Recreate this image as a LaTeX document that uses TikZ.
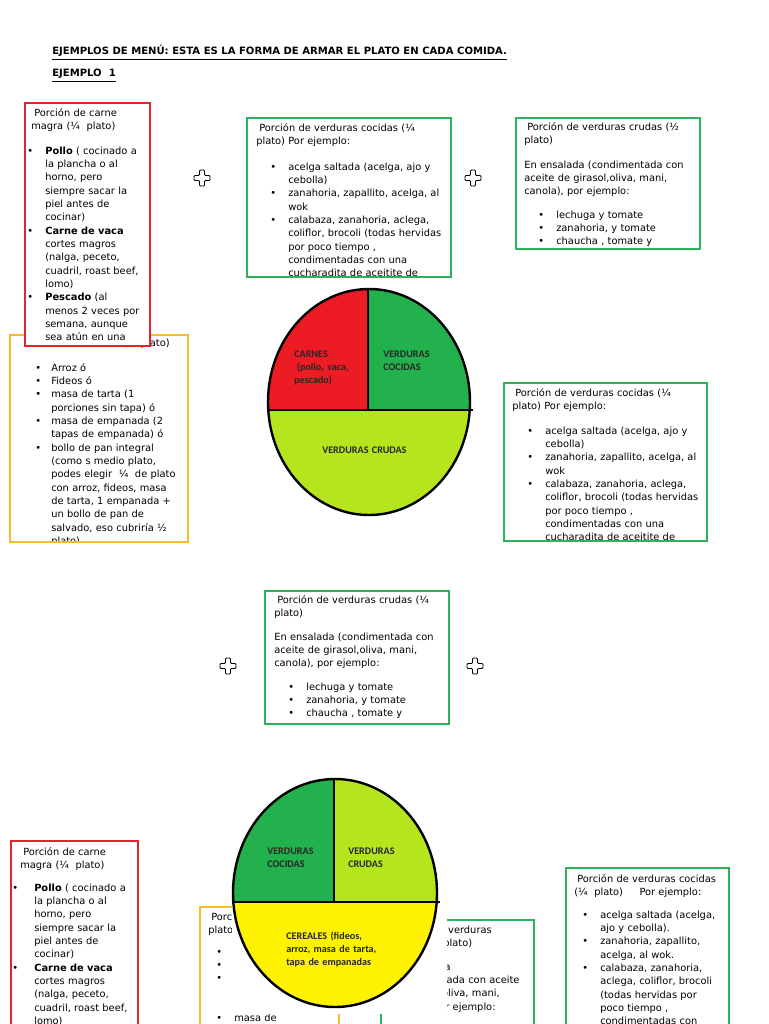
\documentclass[tikz,border=0pt]{standalone}
\usepackage{fontspec}
\setmainfont{DejaVu Sans}
\newfontfamily\piefont{Carlito}
\usepackage{xcolor}
\definecolor{boxred}{HTML}{E3242B}
\definecolor{boxgreen}{HTML}{2DB35A}
\definecolor{boxyellow}{HTML}{F6BC2E}
\definecolor{pred}{HTML}{ED1C24}
\definecolor{pgreen}{HTML}{22B14C}
\definecolor{plime}{HTML}{B5E61D}
\definecolor{pyellow}{HTML}{FFF200}
\colorlet{pietext}{black!85}
\newcommand{\bl}[1][13.5pt]{\makebox[#1][l]{\textbullet}}
\newcommand{\ind}[1][13.5pt]{\hspace*{#1}}

\begin{document}
\begin{tikzpicture}[x=0.75pt,y=-0.75pt,
  txt/.style={font=\fontsize{7.4}{10}\selectfont,text width=220pt,align=left,anchor=base west,inner sep=0pt},
  oneline/.style={font=\fontsize{7.4}{10}\selectfont,anchor=base west,inner sep=0pt},
  head/.style={font=\bfseries\fontsize{7.55}{10}\selectfont,anchor=base west,inner sep=0pt},
  pietxt/.style={font=\piefont\bfseries\fontsize{7.6}{9.75}\selectfont,text=pietext,text width=100pt,align=left,anchor=base west,inner sep=0pt},
  redbox/.style={draw=boxred,line width=1.5pt},
  grnbox/.style={draw=boxgreen,line width=1.5pt},
  yelbox/.style={draw=boxyellow,line width=1.2pt},
  pieline/.style={line width=1.8pt,black},
  plusline/.style={line width=0.7pt,black,rounded corners=0.8pt}]
\useasboundingbox (0,0) rectangle (768,1024);
\fill[white] (0,0) rectangle (768,1024);

\node[head] (titulo) at (52,55) {\underline{EJEMPLOS DE MENÚ: ESTA ES LA FORMA DE ARMAR EL PLATO EN CADA COMIDA.}};
\node[head] (ejemplo) at (52,77) {\underline{EJEMPLO\ \ 1}};

% cereales, partly under the meat box
\begin{scope}
  \clip (10,335) rectangle (188,542);
  \node[oneline,anchor=base east] (cerealA) at (170,346) {Porción de cereales (¼ plato)};
  \node[txt] (cerealAl) at (35,371) {\bl[12pt]Arroz ó\\ \bl[12pt]Fideos ó\\ \bl[12pt]masa de tarta (1\\ \ind[12pt]porciones sin tapa) ó\\ \bl[12pt]masa de empanada (2\\ \ind[12pt]tapas de empanada) ó\\ \bl[12pt]bollo de pan integral\\ \ind[12pt](como s medio plato,\\ \ind[12pt]podes elegir \ ¼ \ de plato\\ \ind[12pt]con arroz, fideos, masa\\ \ind[12pt]de tarta, 1 empanada +\\ \ind[12pt]un bollo de pan de\\ \ind[12pt]salvado, eso cubriría ½\\ \ind[12pt]plato)};
\end{scope}
\draw[yelbox] (10,335) rectangle (188,542);

\fill[white] (25,103) rectangle (150,346);
\begin{scope}
  \clip (25,103) rectangle (150,346);
  \node[txt] (carneA) at (31,116) {\hspace*{2.3pt}Porción de carne\\magra (¼\ \ plato)};
  \node[txt] (carneAl) at (27,154) {\bl\textbf{Pollo} ( cocinado a\\ \ind la plancha o al\\ \ind horno, pero\\ \ind siempre sacar la\\ \ind piel antes de\\ \ind cocinar)\\ \bl\textbf{Carne de vaca}\\ \ind cortes magros\\ \ind (nalga, peceto,\\ \ind cuadril, roast beef,\\ \ind lomo)\\ \bl\textbf{Pescado} (al\\ \ind menos 2 veces por\\ \ind semana, aunque\\ \ind sea atún en una};
\end{scope}
\draw[redbox] (25,103) rectangle (150,346);

\begin{scope}
  \clip (247,118) rectangle (451,277);
  \node[txt] (cocidasA) at (256,131) {\hspace*{2.3pt}Porción de verduras cocidas (¼\\plato) Por ejemplo:};
  \node[txt] (cocidasAl) at (270,170) {\bl acelga saltada (acelga, ajo y\\ \ind cebolla)\\ \bl zanahoria, zapallito, acelga, al\\ \ind wok\\ \bl calabaza, zanahoria, aclega,\\ \ind coliflor, brocoli (todas hervidas\\ \ind por poco tiempo ,\\ \ind condimentadas con una\\ \ind cucharadita de aceitite de};
\end{scope}
\draw[grnbox] (247,118) rectangle (451,277);

\begin{scope}
  \clip (516,118) rectangle (700,249);
  \node[txt] (crudasA) at (524,130) {\hspace*{2.3pt}Porción de verduras crudas (½\\plato)};
  \node[txt] (crudasAp) at (524,168) {En ensalada (condimentada con\\aceite de girasol,oliva, mani,\\canola), por ejemplo:};
  \node[txt] (crudasAl) at (538,218) {\bl lechuga y tomate\\ \bl zanahoria, y tomate\\ \bl chaucha , tomate y};
\end{scope}
\draw[grnbox] (516,118) rectangle (700,249);

\foreach \px/\py in {202/178,473/178,228/666,475/666}
  \draw[plusline] (\px,\py) ++(-2.5,-8) -- ++(5,0) -- ++(0,5.5) -- ++(5.5,0) -- ++(0,5) -- ++(-5.5,0) -- ++(0,5.5) -- ++(-5,0) -- ++(0,-5.5) -- ++(-5.5,0) -- ++(0,-5) -- ++(5.5,0) -- cycle;

% first plate
\begin{scope}
  \clip (369,402) ellipse [x radius=75.75pt,y radius=84.75pt];
  \fill[pred] (260,280) rectangle (368,410);
  \fill[pgreen] (368,280) rectangle (480,410);
  \fill[plime] (260,410) rectangle (480,525);
\end{scope}
\draw[pieline] (369,402) ellipse [x radius=75.75pt,y radius=84.75pt];
\draw[pieline] (268,410) -- (473,410);
\draw[pieline] (368,288) -- (368,410);
\node[pietxt] (carnes) at (294,357) {CARNES\\\hspace*{2pt}(pollo, vaca,\\pescado)};
\node[pietxt] (cocidas) at (383,357) {VERDURAS\\COCIDAS};
\node[pietxt] (crudas) at (322,453) {VERDURAS CRUDAS};

\begin{scope}
  \clip (504,383) rectangle (707,541);
  \node[txt] (cocidasB) at (512,396) {\hspace*{2.3pt}Porción de verduras cocidas (¼\\plato) Por ejemplo:};
  \node[txt] (cocidasBl) at (527,434) {\bl acelga saltada (acelga, ajo y\\ \ind cebolla)\\ \bl zanahoria, zapallito, acelga, al\\ \ind wok\\ \bl calabaza, zanahoria, aclega,\\ \ind coliflor, brocoli (todas hervidas\\ \ind por poco tiempo ,\\ \ind condimentadas con una\\ \ind cucharadita de aceitite de};
\end{scope}
\draw[grnbox] (504,383) rectangle (707,541);

\begin{scope}
  \clip (265,591) rectangle (449,724);
  \node[txt] (crudasB) at (274,603) {\hspace*{2.3pt}Porción de verduras crudas (¼\\plato)};
  \node[txt] (crudasBp) at (274,640) {En ensalada (condimentada con\\aceite de girasol,oliva, mani,\\canola), por ejemplo:};
  \node[txt] (crudasBl) at (288,690) {\bl lechuga y tomate\\ \bl zanahoria, y tomate\\ \bl chaucha , tomate y};
\end{scope}
\draw[grnbox] (265,591) rectangle (449,724);

% second example
\begin{scope}
  \clip (11,841) rectangle (138,1030);
  \node[txt] (carneB) at (20,855) {\hspace*{2.3pt}Porción de carne\\magra (¼\ \ plato)};
  \node[txt] (carneBl) at (12,891) {\bl[16.5pt]\textbf{Pollo} ( cocinado a\\ \ind[16.5pt]la plancha o al\\ \ind[16.5pt]horno, pero\\ \ind[16.5pt]siempre sacar la\\ \ind[16.5pt]piel antes de\\ \ind[16.5pt]cocinar)\\ \bl[16.5pt]\textbf{Carne de vaca}\\ \ind[16.5pt]cortes magros\\ \ind[16.5pt](nalga, peceto,\\ \ind[16.5pt]cuadril, roast beef,\\ \ind[16.5pt]lomo)};
\end{scope}
\draw[redbox] (11,841) rectangle (138,1030);

\begin{scope}
  \clip (200,907) rectangle (339,1030);
  \node[txt] (cerealB) at (208,920) {\hspace*{2.3pt}Porción de cereales (¼\\plato)};
  \node[txt] (cerealBl) at (216,955) {\bl Arroz ó\\ \bl Fideos ó\\ \bl masa de tarta (1\\ \ind porciones sin\\ \ind tapa) ó\\ \bl masa de\\ \ind empanada (2};
\end{scope}
\draw[yelbox] (200,907) rectangle (339,1030);

\begin{scope}
  \clip (381,920) rectangle (534,1030);
  \node[txt] (crudasC) at (390,933) {\hspace*{2.3pt}Porción de verduras\\crudas (¼ plato)};
  \node[txt] (crudasCp) at (390,970) {En ensalada\\(condimentada con aceite\\de girasol,oliva, mani,\\canola), por ejemplo:};
\end{scope}
\draw[grnbox] (381,920) rectangle (534,1030);

% second plate, pasted with its white margin
\fill[white] (232,772) rectangle (447,1014);
\begin{scope}
  \clip (335,893) ellipse [x radius=76.5pt,y radius=85.5pt];
  \fill[pgreen] (225,770) rectangle (334,902);
  \fill[plime] (334,770) rectangle (445,902);
  \fill[pyellow] (225,902) rectangle (445,1012);
\end{scope}
\draw[pieline] (335,893) ellipse [x radius=76.5pt,y radius=85.5pt];
\draw[pieline] (233,902) -- (440,902);
\draw[pieline] (334,778) -- (334,902);
\node[pietxt] (cocidasP) at (267,854) {VERDURAS\\COCIDAS};
\node[pietxt] (crudasP) at (348,854) {VERDURAS\\CRUDAS};
\node[pietxt] (cereales) at (286,939) {CEREALES (fideos,\\arroz, masa de tarta,\\tapa de empanadas};

\begin{scope}
  \clip (566,868) rectangle (729,1030);
  \node[txt] (cocidasC) at (574,882) {\hspace*{2.3pt}Porción de verduras cocidas\\(¼\ \ plato)\ \ \ \ \ Por ejemplo:};
  \node[txt] (cocidasCl) at (582,918) {\bl acelga saltada (acelga,\\ \ind ajo y cebolla).\\ \bl zanahoria, zapallito,\\ \ind acelga, al wok.\\ \bl calabaza, zanahoria,\\ \ind aclega, coliflor, brocoli\\ \ind (todas hervidas por\\ \ind poco tiempo ,\\ \ind condimentadas con};
\end{scope}
\draw[grnbox] (566,868) rectangle (729,1030);
\end{tikzpicture}
\end{document}
